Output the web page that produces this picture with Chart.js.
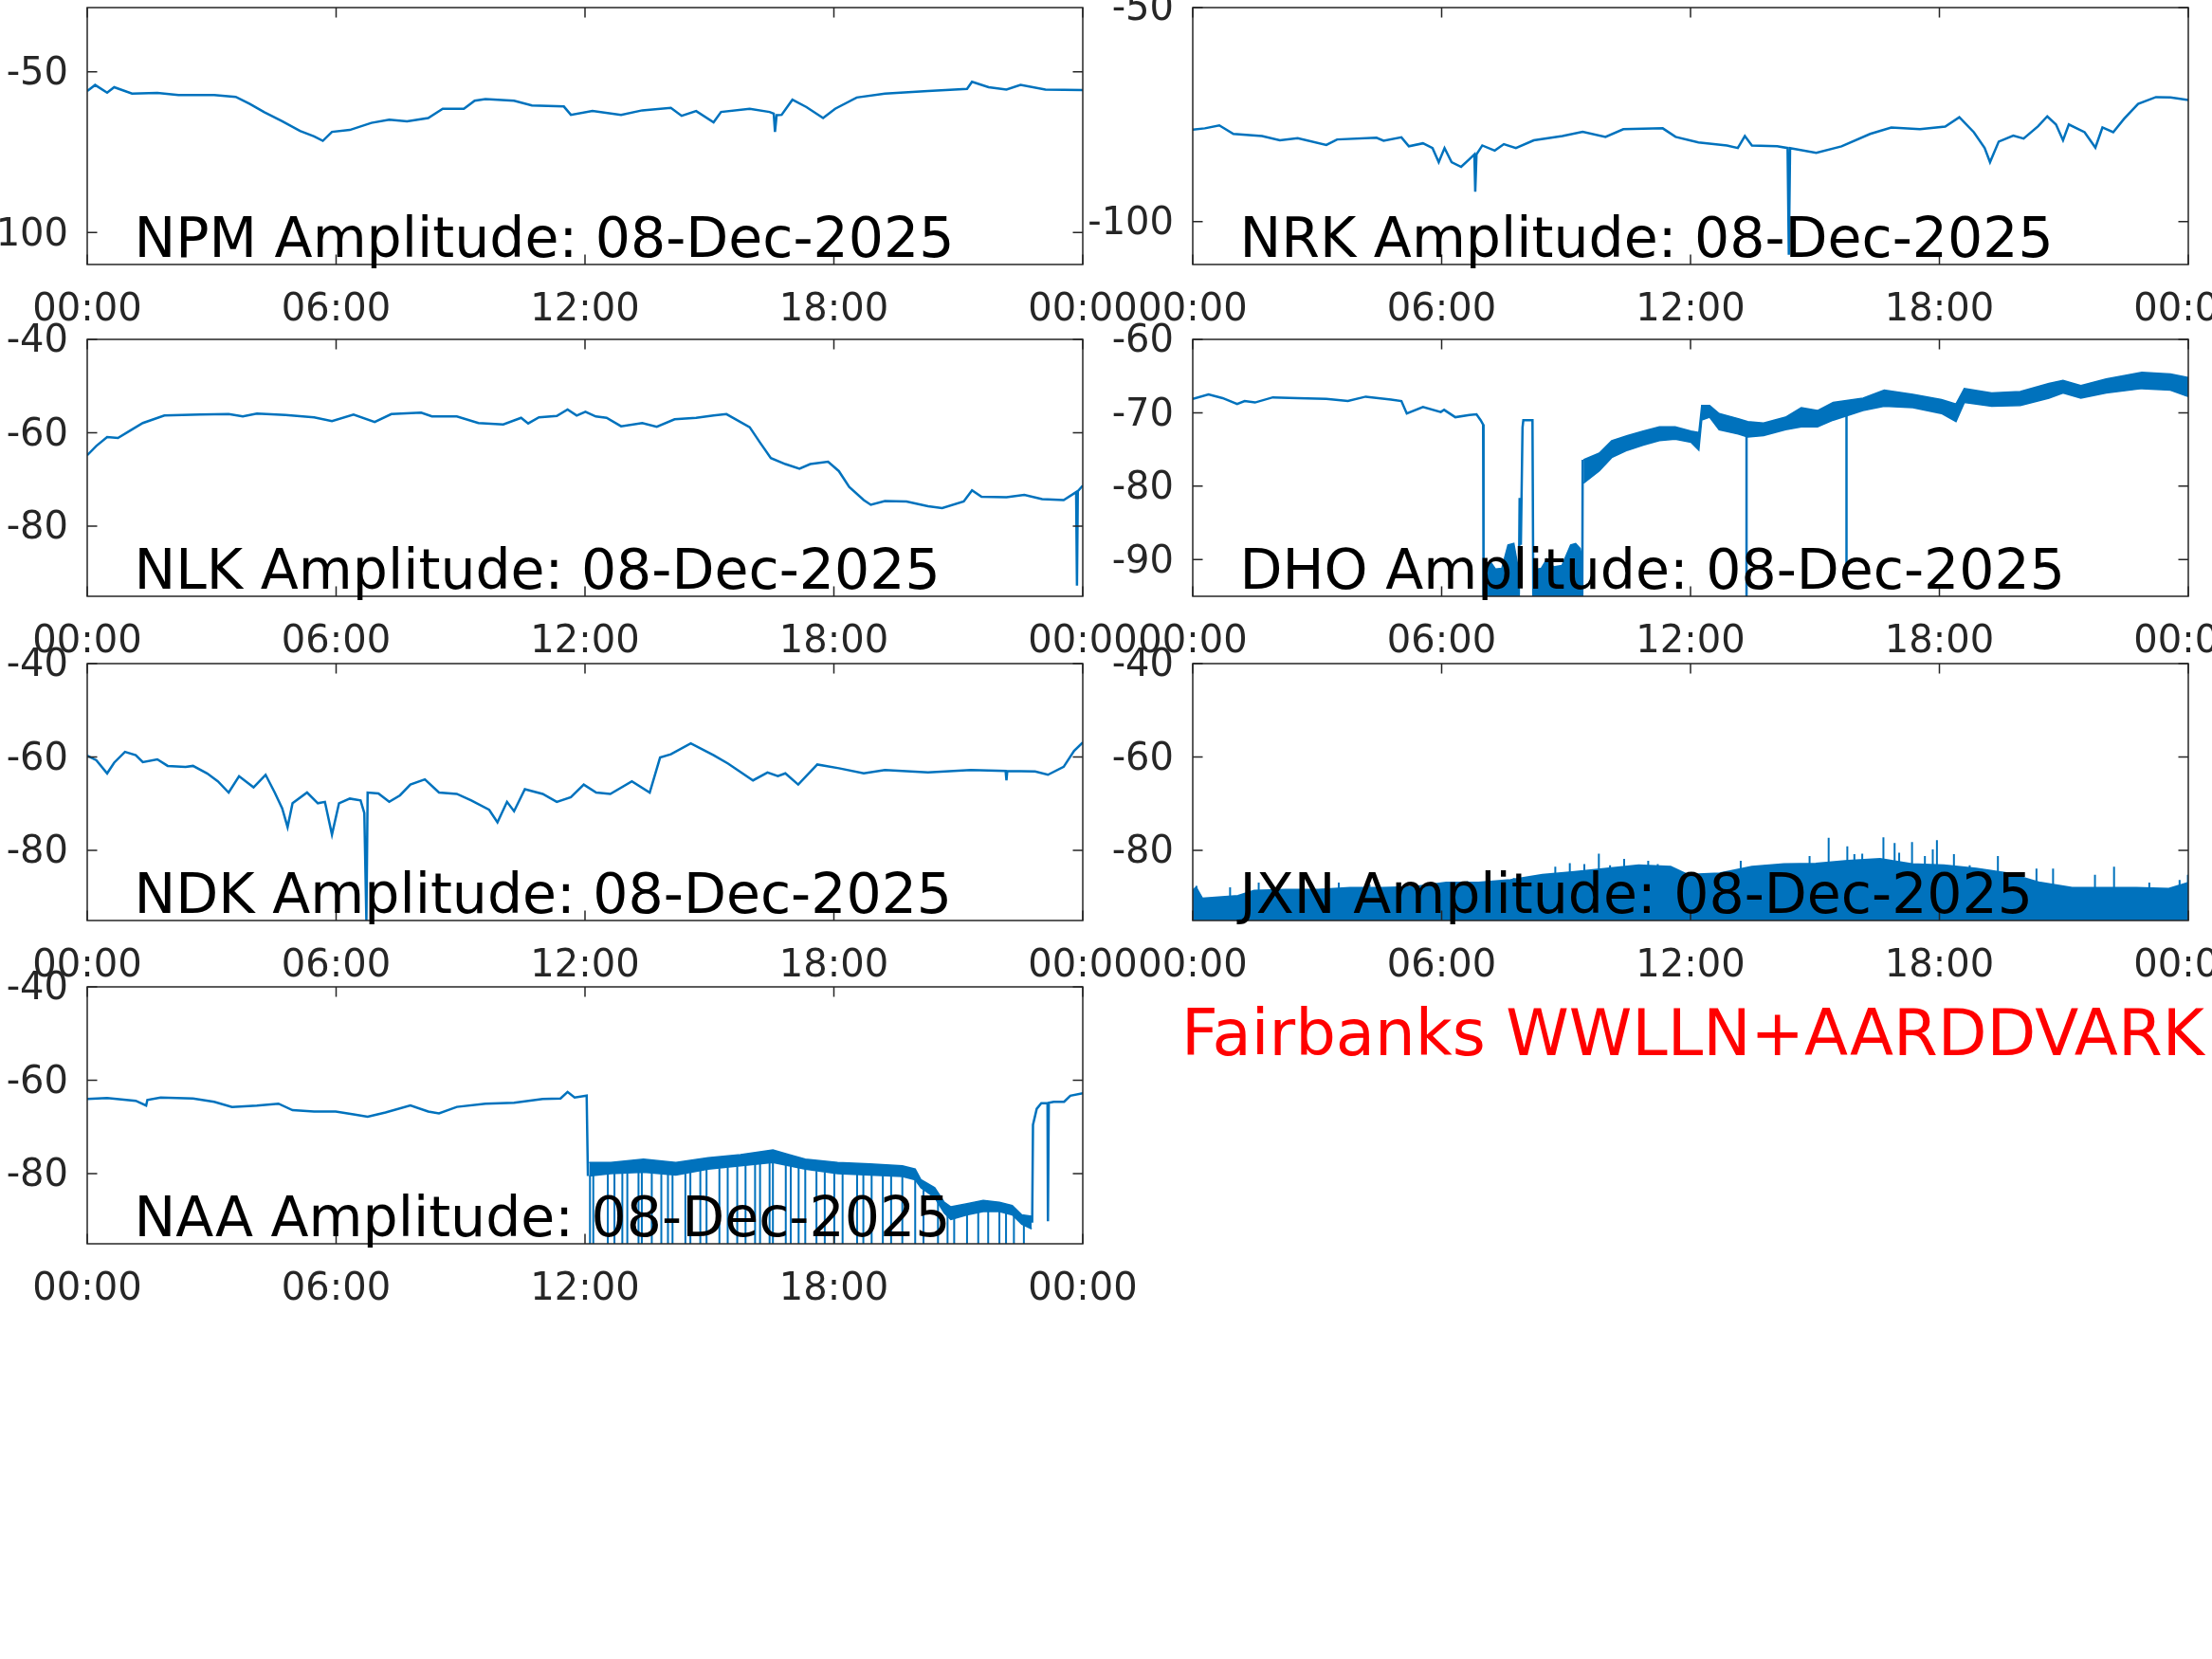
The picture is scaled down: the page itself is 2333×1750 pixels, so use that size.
<!DOCTYPE html>
<html>
<head>
<meta charset="utf-8">
<script src="https://cdn.jsdelivr.net/npm/chart.js@4/dist/chart.umd.min.js"></script>
<style>
    html, body { margin: 0; padding: 0; background: #fff; }
    body { width: 2333px; height: 1750px; position: relative; overflow: hidden; }
    canvas { position: absolute; }
    #site {
        position: absolute; left: 1246px; top: 1057px;
        font-family: "DejaVu Sans"; font-size: 67.3px; line-height: 1;
        color: #ff0000; white-space: nowrap;
    }
</style>
</head>
<body>
<div id="site">Fairbanks WWLLN+AARDDVARK</div>
<script>
// hours since 00:00 UT, amplitude in dB
const xTickHours = [0, 6, 12, 18, 24];
const xTickLabels = ["00:00", "06:00", "12:00", "18:00", "00:00"];

const npmHours = [0, 0.19, 0.48, 0.65, 1.08, 1.69, 2.2, 3.06, 3.58, 3.92, 4.27, 4.7, 5.13, 5.47, 5.68, 5.9, 6.33, 6.85, 7.28, 7.71, 8.22, 8.57, 9.08, 9.34, 9.6, 10.29, 10.72, 11.49, 11.66, 12.18, 12.87, 13.38, 14.07, 14.33, 14.68, 15.1, 15.28, 15.97, 16.45, 16.55, 16.58, 16.62, 16.74, 17.0, 17.34, 17.74, 18.03, 18.55, 19.23, 20.27, 21.21, 21.33, 21.73, 22.16, 22.5, 23.1, 24];
const npmDb = [-56.0, -54.1, -56.5, -54.8, -56.8, -56.6, -57.2, -57.2, -57.8, -60.0, -62.6, -65.4, -68.4, -70.1, -71.5, -68.7, -68.1, -65.9, -64.9, -65.4, -64.4, -61.5, -61.5, -59.0, -58.5, -59.0, -60.5, -60.8, -63.4, -62.2, -63.4, -62.0, -61.2, -63.7, -62.2, -65.7, -62.5, -61.5, -62.5, -63.0, -68.7, -63.5, -63.4, -58.7, -61.0, -64.4, -61.5, -58.0, -56.8, -56.0, -55.3, -53.1, -54.8, -55.5, -54.1, -55.5, -55.7];
const npmYTicks = [-100, -50];

const nrkHours = [0, 0.29, 0.64, 0.98, 1.67, 2.1, 2.53, 3.22, 3.48, 4.43, 4.6, 5.03, 5.21, 5.55, 5.78, 5.93, 6.07, 6.24, 6.47, 6.67, 6.79, 6.81, 6.84, 6.98, 7.28, 7.5, 7.79, 8.22, 8.91, 9.4, 9.95, 10.38, 11.33, 11.64, 12.19, 12.88, 13.14, 13.31, 13.48, 14.09, 14.34, 14.37, 14.4, 15.03, 15.64, 16.33, 16.84, 17.53, 18.14, 18.48, 18.83, 19.09, 19.22, 19.43, 19.78, 20.03, 20.38, 20.6, 20.81, 20.98, 21.12, 21.5, 21.76, 21.93, 22.19, 22.45, 22.79, 23.22, 23.57, 24];
const nrkDb = [-78.5, -78.2, -77.5, -79.5, -80.0, -81.0, -80.5, -82.1, -80.8, -80.4, -81.1, -80.3, -82.4, -81.7, -82.8, -86.1, -82.8, -86.1, -87.2, -85.4, -84.3, -93.0, -84.3, -82.2, -83.4, -81.9, -82.8, -81.0, -80.0, -79.0, -80.2, -78.4, -78.2, -80.2, -81.5, -82.2, -82.8, -80.0, -82.2, -82.4, -82.8, -107.7, -82.8, -83.9, -82.4, -79.5, -78.0, -78.4, -77.8, -75.6, -79.1, -82.8, -86.1, -81.3, -79.9, -80.6, -77.7, -75.4, -77.3, -81.0, -77.3, -79.1, -82.7, -78.0, -79.1, -76.0, -72.5, -70.9, -71.0, -71.6];
const nrkYTicks = [-100, -50];

const nlkHours = [0, 0.22, 0.48, 0.74, 1.0, 1.34, 1.86, 2.72, 3.41, 3.75, 4.09, 4.78, 5.47, 5.9, 6.42, 6.93, 7.33, 8.05, 8.31, 8.91, 9.43, 10.03, 10.46, 10.63, 10.89, 11.32, 11.58, 11.8, 12.01, 12.26, 12.52, 12.87, 13.38, 13.73, 14.16, 14.68, 15.1, 15.41, 15.97, 16.22, 16.48, 16.83, 17.17, 17.43, 17.86, 18.12, 18.37, 18.72, 18.89, 19.23, 19.75, 20.27, 20.61, 21.13, 21.33, 21.56, 22.16, 22.59, 23.02, 23.54, 23.84, 23.86, 23.88, 24];
const nlkDb = [-64.8, -62.8, -60.9, -61.1, -59.7, -57.9, -56.3, -56.1, -56.0, -56.5, -55.9, -56.2, -56.7, -57.5, -56.1, -57.7, -56.0, -55.7, -56.5, -56.5, -57.9, -58.2, -56.8, -58.0, -56.7, -56.4, -55.0, -56.3, -55.5, -56.5, -56.8, -58.6, -57.9, -58.7, -57.1, -56.8, -56.3, -56.0, -58.8, -62.1, -65.4, -66.7, -67.7, -66.7, -66.2, -68.2, -71.6, -74.4, -75.4, -74.6, -74.7, -75.7, -76.1, -74.7, -72.3, -73.7, -73.8, -73.3, -74.2, -74.4, -72.7, -92.7, -72.5, -71.3];
const nlkYTicks = [-80, -60, -40];

const dhoHours = [0, 0.38, 0.72, 1.07, 1.25, 1.5, 1.93, 2.53, 3.22, 3.74, 4.17, 4.78, 5.03, 5.16, 5.55, 5.98, 6.06, 6.33, 6.67, 6.84, 6.94, 7.0, 7.01, 7.86, 7.88, 7.91, 7.95, 7.97, 8.19, 8.21, 9.39, 9.4];
const dhoDb = [-68.1, -67.5, -68.0, -68.8, -68.4, -68.6, -67.9, -68.0, -68.1, -68.4, -67.8, -68.2, -68.4, -70.1, -69.2, -69.9, -69.6, -70.6, -70.3, -70.2, -71.0, -71.6, -95, -95, -81.6, -88.0, -72.0, -71.0, -71.0, -95, -95, -76.4];
// noisy part after 09:24, upper and lower edge of the band
const dhoBandHours = [9.42, 9.8, 10.1, 10.48, 10.86, 11.25, 11.63, 12.01, 12.2, 12.27, 12.46, 12.69, 13.15, 13.38, 13.76, 14.29, 14.67, 15.06, 15.44, 16.16, 16.67, 17.36, 18.05, 18.4, 18.6, 19.26, 19.95, 20.64, 20.98, 21.41, 22.02, 22.88, 23.57, 24];
const dhoBandTop = [-76.4, -75.5, -73.8, -73.1, -72.5, -71.9, -71.9, -72.5, -72.7, -69.0, -69.0, -70.1, -70.8, -71.2, -71.4, -70.6, -69.3, -69.7, -68.6, -68.0, -66.9, -67.5, -68.2, -68.8, -66.7, -67.3, -67.1, -66.0, -65.6, -66.3, -65.4, -64.5, -64.7, -65.2];
const dhoBandLow = [-79.6, -77.9, -76.1, -75.1, -74.4, -73.8, -73.6, -74.0, -75.1, -71.0, -70.6, -72.3, -72.9, -73.3, -73.1, -72.3, -71.9, -71.9, -71.0, -69.7, -69.1, -69.3, -70.1, -71.2, -68.6, -69.1, -69.0, -68.0, -67.3, -68.0, -67.3, -66.7, -66.9, -67.8];
// noise floor while the signal is off
const dhoFloorHours = [7.01, 7.19, 7.3, 7.45, 7.6, 7.74, 7.85, 8.0, 8.21, 8.4, 8.54, 8.7, 8.9, 9.11, 9.23, 9.34, 9.39];
const dhoFloorDb = [-91.5, -90.4, -91.3, -91.2, -88.0, -87.8, -91.3, null, -91.4, -91.2, -89.9, -91.0, -90.8, -88.0, -87.8, -88.5, -90.0];
const dhoSpikeHours = [13.35, 15.76];
const dhoSpikeLow = [-95, -93.4];
const dhoSpikeHigh = [-72.0, -69.0];
const dhoYTicks = [-90, -80, -70, -60];

const ndkHours = [0, 0.22, 0.48, 0.65, 0.91, 1.17, 1.34, 1.69, 1.94, 2.37, 2.55, 2.89, 3.15, 3.41, 3.66, 4.01, 4.3, 4.52, 4.7, 4.83, 4.95, 5.3, 5.56, 5.73, 5.9, 6.07, 6.33, 6.59, 6.68, 6.73, 6.76, 7.02, 7.28, 7.54, 7.79, 8.14, 8.48, 8.91, 9.26, 9.69, 9.89, 10.12, 10.29, 10.55, 10.98, 11.32, 11.66, 11.97, 12.27, 12.61, 13.13, 13.56, 13.81, 14.07, 14.55, 15.1, 15.45, 16.05, 16.4, 16.65, 16.83, 17.14, 17.6, 18.12, 18.72, 19.23, 20.27, 21.3, 22.14, 22.16, 22.18, 22.85, 23.16, 23.54, 23.79, 24];
const ndkDb = [-59.7, -60.7, -63.5, -61.2, -58.9, -59.6, -61.1, -60.5, -61.9, -62.1, -61.9, -63.5, -65.2, -67.6, -64.1, -66.5, -63.8, -67.6, -71.0, -75.0, -69.9, -67.6, -69.9, -69.6, -76.6, -69.9, -68.9, -69.3, -72.0, -95, -67.6, -67.8, -69.6, -68.2, -65.9, -64.8, -67.6, -67.9, -69.3, -71.3, -74.0, -69.6, -71.6, -66.9, -67.9, -69.6, -68.6, -65.9, -67.6, -67.9, -65.2, -67.6, -60.1, -59.4, -57.1, -59.6, -61.4, -65.0, -63.3, -64.1, -63.5, -65.9, -61.6, -62.4, -63.5, -62.8, -63.3, -62.8, -63.0, -65.0, -63.0, -63.1, -63.8, -62.1, -58.7, -56.9];
const ndkYTicks = [-80, -60, -40];

// JXN is only noise: top of the dense band, plus the tallest spikes
const jxnHours = [0, 0.08, 0.23, 0.7, 1.09, 1.48, 2.25, 3.02, 3.79, 4.57, 5.34, 6.11, 6.89, 7.66, 8.43, 9.2, 9.98, 10.75, 11.52, 11.93, 12.7, 13.48, 14.25, 15.02, 15.79, 16.57, 17.34, 18.11, 18.89, 19.66, 20.43, 21.2, 21.98, 22.75, 23.53, 24];
const jxnDb = [-88.6, -87.9, -90.3, -90.0, -89.7, -88.6, -88.4, -88.4, -88.0, -88.0, -87.8, -86.9, -86.9, -86.3, -85.2, -84.6, -83.9, -83.2, -83.5, -85.2, -84.9, -83.5, -82.9, -82.8, -82.2, -81.8, -82.9, -83.2, -83.9, -84.9, -86.9, -88.0, -88.0, -88.0, -88.2, -86.9];
const jxnSpikeHours = [0.09, 0.9, 1.59, 3.52, 4.26, 6.62, 7.74, 8.74, 9.09, 9.44, 9.79, 10.06, 10.4, 10.98, 11.21, 13.21, 13.79, 14.87, 15.33, 15.78, 15.95, 16.14, 16.65, 16.92, 17.03, 17.34, 17.65, 17.84, 17.94, 18.35, 18.73, 19.41, 20.34, 20.74, 21.75, 22.21, 23.06, 23.79, 23.99];
const jxnSpikeDb = [-87.6, -87.9, -86.9, -86.9, -87.3, -86.6, -85.9, -83.5, -82.7, -82.9, -80.7, -83.2, -81.8, -82.2, -82.9, -82.2, -83.2, -81.2, -77.3, -79.1, -80.8, -80.7, -77.2, -78.4, -80.5, -78.2, -81.2, -79.8, -77.8, -80.8, -83.2, -81.2, -83.9, -83.9, -85.2, -83.5, -86.9, -86.3, -85.2];
const jxnYTicks = [-80, -60, -40];

const naaHours = [0, 0.48, 1.17, 1.42, 1.45, 1.77, 2.55, 3.06, 3.49, 4.09, 4.61, 4.95, 5.47, 5.99, 6.42, 6.76, 7.19, 7.79, 8.22, 8.48, 8.91, 9.6, 10.29, 10.98, 11.41, 11.58, 11.75, 12.04, 12.07, 12.1, 22.78, 22.8, 22.89, 23.0, 23.15, 23.16, 23.18, 23.3, 23.55, 23.7, 24];
const naaDb = [-64.0, -63.8, -64.4, -65.4, -64.2, -63.7, -63.9, -64.6, -65.7, -65.4, -65.0, -66.4, -66.7, -66.7, -67.3, -67.8, -66.9, -65.4, -66.7, -67.1, -65.7, -65.0, -64.8, -64.0, -63.9, -62.5, -63.7, -63.3, -80.5, null, -90.5, -69.5, -66.1, -64.9, -64.9, -90.2, -64.8, -64.6, -64.6, -63.3, -62.8];
const naaBandHours = [12.1, 12.62, 13.41, 14.19, 14.97, 15.75, 16.53, 16.92, 17.31, 18.09, 18.87, 19.65, 19.96, 20.1, 20.43, 20.66, 20.82, 21.21, 21.6, 21.99, 22.3, 22.53, 22.77];
const naaBandTop = [-77.6, -77.6, -76.9, -77.6, -76.6, -75.9, -74.9, -75.9, -76.9, -77.6, -77.9, -78.3, -79.0, -81.3, -83.0, -86.1, -87.1, -86.4, -85.7, -86.1, -86.8, -88.8, -89.1];
const naaBandLow = [-80.5, -80.0, -79.7, -80.3, -79.0, -78.3, -77.6, -78.3, -79.0, -80.0, -80.3, -80.6, -81.3, -83.0, -85.1, -88.4, -89.8, -88.8, -88.1, -88.1, -88.8, -90.8, -91.8];
// dropouts down to the floor
const naaDropHours = [12.12, 12.2, 12.55, 12.71, 12.9, 13.02, 13.29, 13.37, 13.61, 13.84, 14.0, 14.11, 14.42, 14.54, 14.78, 14.93, 15.24, 15.44, 15.67, 15.87, 16.1, 16.22, 16.45, 16.53, 16.84, 16.96, 17.15, 17.31, 17.58, 17.78, 18.01, 18.21, 18.56, 18.71, 18.91, 19.18, 19.38, 19.65, 19.96, 20.16, 20.51, 20.74, 20.9, 21.21, 21.48, 21.72, 21.99, 22.15, 22.34, 22.58];
const naaDropDb = [-80.5, -80.4, -80.0, -80.0, -79.9, -79.8, -79.7, -79.7, -79.9, -80.1, -80.2, -80.3, -79.9, -79.6, -79.2, -79.0, -78.8, -78.6, -78.4, -78.2, -78.0, -77.9, -77.7, -77.6, -78.1, -78.4, -78.7, -79.0, -79.4, -79.7, -80.0, -80.0, -80.2, -80.2, -80.3, -80.4, -80.5, -80.6, -81.3, -83.5, -86.0, -89.0, -89.5, -88.8, -88.3, -88.1, -88.1, -88.5, -89.0, -91.0];
const naaYTicks = [-80, -60, -40];

const BLUE = "#0072BD";
const AXIS = "#262626";
const FONT = "DejaVu Sans";

function pts(hours, values) {
    return hours.map((h, i) => ({ x: h, y: values[i] }));
}

// vertical strokes, one per spike
function spikes(hours, highs, lows, floor) {
    let out = [];
    hours.forEach((h, i) => {
        out.push({ x: h, y: lows ? lows[i] : floor });
        out.push({ x: h, y: highs[i] });
        out.push({ x: h, y: null });
    });
    return out;
}

function line(data, extra) {
    return Object.assign({
        data: data,
        borderColor: BLUE,
        backgroundColor: BLUE,
        borderWidth: 2.5,
        pointRadius: 0,
        tension: 0,
        fill: false
    }, extra || {});
}

const colLeft = [92, 1258];
const rowTop = [8, 358, 700, 1041];
const panelW = 1050, panelH = 271;
// room around the plot box; chart.js wants tick padding + half a label on top and right
const padL = 110, padT = 50, padR = 90, padB = 80;

const panels = [
    { name: "NPM", col: 0, row: 0, yMin: -110, yMax: -30, yTicks: npmYTicks,
      datasets: () => [line(pts(npmHours, npmDb))] },
    { name: "NRK", col: 1, row: 0, yMin: -110, yMax: -50, yTicks: nrkYTicks,
      datasets: () => [line(pts(nrkHours, nrkDb))] },
    { name: "NLK", col: 0, row: 1, yMin: -95, yMax: -40, yTicks: nlkYTicks,
      datasets: () => [line(pts(nlkHours, nlkDb))] },
    { name: "DHO", col: 1, row: 1, yMin: -95, yMax: -60, yTicks: dhoYTicks,
      datasets: () => [
          line(pts(dhoHours, dhoDb)),
          line(pts(dhoBandHours, dhoBandTop), { fill: "+1", borderWidth: 1.5 }),
          line(pts(dhoBandHours, dhoBandLow), { borderWidth: 1.5 }),
          line(pts(dhoFloorHours, dhoFloorDb), { fill: "start", borderWidth: 1.5 }),
          line(spikes(dhoSpikeHours, dhoSpikeHigh, dhoSpikeLow))
      ] },
    { name: "NDK", col: 0, row: 2, yMin: -95, yMax: -40, yTicks: ndkYTicks,
      datasets: () => [line(pts(ndkHours, ndkDb))] },
    { name: "JXN", col: 1, row: 2, yMin: -95, yMax: -40, yTicks: jxnYTicks,
      datasets: () => [
          line(pts(jxnHours, jxnDb), { fill: "start", borderWidth: 2 }),
          line(spikes(jxnSpikeHours, jxnSpikeDb, null, -95), { borderWidth: 2 })
      ] },
    { name: "NAA", col: 0, row: 3, yMin: -95, yMax: -40, yTicks: naaYTicks,
      datasets: () => [
          line(pts(naaHours, naaDb)),
          line(pts(naaBandHours, naaBandTop), { fill: "+1", borderWidth: 1.5 }),
          line(pts(naaBandHours, naaBandLow), { borderWidth: 1.5 }),
          line(spikes(naaDropHours, naaDropDb, null, -95), { borderWidth: 2 })
      ] }
];

// MATLAB-like box with inward ticks, and the station caption on top
const framePlugin = {
    id: "frame",
    afterDatasetsDraw(chart, args, opts) {
        const ctx = chart.ctx;
        const a = chart.chartArea;
        const xs = chart.scales.x, ys = chart.scales.y;
        const tl = 10.5;
        ctx.save();
        ctx.strokeStyle = AXIS;
        ctx.lineWidth = 1.5;
        ctx.strokeRect(a.left, a.top, a.right - a.left, a.bottom - a.top);
        ctx.beginPath();
        xs.ticks.forEach(t => {
            let x = xs.getPixelForValue(t.value);
            ctx.moveTo(x, a.bottom); ctx.lineTo(x, a.bottom - tl);
            ctx.moveTo(x, a.top); ctx.lineTo(x, a.top + tl);
        });
        ys.ticks.forEach(t => {
            let y = ys.getPixelForValue(t.value);
            ctx.moveTo(a.left, y); ctx.lineTo(a.left + tl, y);
            ctx.moveTo(a.right, y); ctx.lineTo(a.right - tl, y);
        });
        ctx.stroke();

        ctx.fillStyle = "#000";
        ctx.font = "58.5px '" + FONT + "'";
        ctx.textAlign = "left";
        ctx.textBaseline = "alphabetic";
        ctx.fillText(opts.title, a.left + 49.5, a.bottom - 8);
        ctx.restore();
    }
};

panels.forEach(p => {
    let c = document.createElement("canvas");
    c.width = padL + panelW + padR;
    c.height = padT + panelH + padB;
    c.style.left = (colLeft[p.col] - padL) + "px";
    c.style.top = (rowTop[p.row] - padT) + "px";
    document.body.appendChild(c);

    new Chart(c, {
        type: "line",
        data: { datasets: p.datasets() },
        options: {
            responsive: false,
            animation: false,
            layout: { padding: { top: padT, right: padR, left: 0, bottom: 0 } },
            plugins: {
                legend: { display: false },
                tooltip: { enabled: false },
                frame: { title: p.name + " Amplitude: 08-Dec-2025" }
            },
            scales: {
                x: {
                    type: "linear",
                    min: 0,
                    max: 24,
                    afterBuildTicks: s => { s.ticks = xTickHours.map(v => ({ value: v })); },
                    afterFit: s => { s.height = padB; },
                    grid: { display: false, drawTicks: false, tickLength: 0 },
                    border: { display: false },
                    ticks: {
                        autoSkip: false,
                        maxRotation: 0,
                        padding: 25,
                        color: AXIS,
                        font: { family: FONT, size: 40 },
                        callback: (v, i) => xTickLabels[i]
                    }
                },
                y: {
                    type: "linear",
                    min: p.yMin,
                    max: p.yMax,
                    afterBuildTicks: s => { s.ticks = p.yTicks.map(v => ({ value: v })); },
                    afterFit: s => { s.width = padL; },
                    grid: { display: false, drawTicks: false, tickLength: 0 },
                    border: { display: false },
                    ticks: {
                        padding: 20,
                        labelOffset: 3,
                        color: AXIS,
                        font: { family: FONT, size: 40 },
                        callback: v => String(v)
                    }
                }
            }
        },
        plugins: [framePlugin]
    });
});
</script>
</body>
</html>
